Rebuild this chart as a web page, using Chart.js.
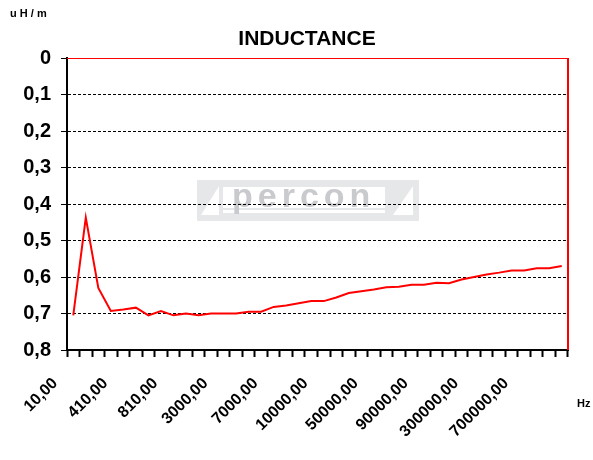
<!DOCTYPE html>
<html>
<head>
<meta charset="utf-8">
<script src="https://cdn.jsdelivr.net/npm/chart.js@4.4.1/dist/chart.umd.min.js"></script>
<style>
  html, body { margin: 0; padding: 0; background: #fff; }
  #wrap { width: 593px; height: 460px; }
</style>
</head>
<body>
<div id="wrap"><canvas id="chart" width="593" height="460"></canvas></div>
<script>
// frequency steps (Hz), shown as "10,00" etc.
const freqs = [10, 110, 210, 310, 410, 510, 610, 710, 810, 910,
  1000, 2000, 3000, 4000, 5000, 6000, 7000, 8000, 9000, 9500,
  10000, 20000, 30000, 40000, 50000, 60000, 70000, 80000, 90000, 100000,
  200000, 250000, 300000, 400000, 500000, 600000, 700000, 800000, 900000, 1000000];

// inductance in uH/m
const inductance = [0.705, 0.437, 0.63, 0.693, 0.689, 0.684, 0.705, 0.693, 0.705, 0.70,
  0.705, 0.70, 0.70, 0.70, 0.695, 0.695, 0.682, 0.678, 0.672, 0.666,
  0.666, 0.656, 0.644, 0.639, 0.634, 0.628, 0.627, 0.621, 0.621, 0.616,
  0.617, 0.607, 0.60, 0.593, 0.588, 0.582, 0.582, 0.576, 0.576, 0.57];

const labels = freqs.map(f => f + ',00');
const labelEvery = 4;
const lastLabel = 36;

const FONT = 'Arial, "Liberation Sans", sans-serif';

// extra text + decorations around the plot
const decor = {
  id: 'decor',
  beforeDraw(chart) {
    const { ctx, chartArea: a } = chart;
    // faint "percon" watermark behind the grid
    const x0 = a.left + 130, y0 = a.top + 122, w = 222, hh = 41;
    ctx.save();
    ctx.fillStyle = '#e6e7e9';
    ctx.fillRect(x0, y0, w, hh);
    ctx.fillStyle = '#ffffff';
    ctx.fillRect(x0 + 26, y0 + 7, w - 60, 21);
    ctx.fillRect(x0 + 26, y0 + 30, w - 60, 3);
    ctx.beginPath();
    ctx.moveTo(x0 + 4, y0 + 35); ctx.lineTo(x0 + 22, y0 + 6); ctx.lineTo(x0 + 22, y0 + 35); ctx.closePath();
    ctx.moveTo(x0 + w - 26, y0 + 35); ctx.lineTo(x0 + w - 6, y0 + 6); ctx.lineTo(x0 + w - 6, y0 + 35); ctx.closePath();
    ctx.fill();
    ctx.fillStyle = '#c9cacd';
    ctx.font = 'bold 34px ' + FONT;
    if ('letterSpacing' in ctx) ctx.letterSpacing = '5px';
    ctx.textAlign = 'left';
    ctx.textBaseline = 'alphabetic';
    ctx.fillText('percon', x0 + 35, y0 + 27);
    ctx.restore();
  },
  afterDraw(chart) {
    const { ctx, chartArea: a } = chart;
    ctx.save();
    ctx.strokeStyle = '#ff0000';
    ctx.lineWidth = 1;
    ctx.beginPath();
    ctx.moveTo(a.left, a.top + 0.5); ctx.lineTo(a.right, a.top + 0.5);
    ctx.stroke();
    ctx.lineWidth = 2;
    ctx.beginPath();
    ctx.moveTo(a.right, a.top); ctx.lineTo(a.right, a.bottom);
    ctx.stroke();

    ctx.fillStyle = '#000';
    ctx.textBaseline = 'middle';
    ctx.font = 'bold 21px ' + FONT;
    ctx.textAlign = 'center';
    ctx.fillText('INDUCTANCE', 307, 39);
    ctx.font = 'bold 11px ' + FONT;
    ctx.textAlign = 'left';
    ctx.fillText('u H / m', 10, 14);
    ctx.fillText('Hz', 577, 404);
    ctx.restore();
  }
};

new Chart(document.getElementById('chart'), {
  type: 'line',
  data: {
    labels: labels,
    datasets: [{
      data: inductance,
      borderColor: '#ff0000',
      borderWidth: 2,
      pointRadius: 0,
      tension: 0,
      fill: false
    }]
  },
  options: {
    responsive: false,
    animation: false,
    devicePixelRatio: 1,
    layout: { padding: { left: 0, right: 25, top: 58, bottom: 0 } },
    plugins: {
      legend: { display: false },
      title: { display: false },
      tooltip: { enabled: false }
    },
    scales: {
      x: {
        type: 'category',
        offset: true,
        grid: {
          offset: true,
          drawOnChartArea: false,
          drawTicks: true,
          tickLength: 7,
          tickWidth: 2,
          tickColor: '#000'
        },
        border: { display: true, color: '#000', width: 2 },
        ticks: {
          autoSkip: false,
          minRotation: 45,
          maxRotation: 45,
          padding: 17,
          labelOffset: -18,
          color: '#000',
          font: { family: FONT, size: 16, weight: 'bold' },
          callback: (v, i) => (i % labelEvery === 0 && i <= lastLabel) ? labels[i] : ''
        },
        afterFit: s => { s.height = 110; }
      },
      y: {
        reverse: true,
        min: 0,
        max: 0.8,
        grid: {
          color: '#000',
          lineWidth: 1,
          drawTicks: true,
          tickLength: 6,
          tickColor: '#000'
        },
        border: { display: true, color: '#000', width: 2, dash: [3, 2] },
        ticks: {
          stepSize: 0.1,
          padding: 10,
          color: '#000',
          font: { family: FONT, size: 20, weight: 'bold' },
          callback: v => v === 0 ? '0' : v.toFixed(1).replace('.', ',')
        },
        afterFit: s => { s.width = 67; }
      }
    }
  },
  plugins: [decor]
});
</script>
</body>
</html>
